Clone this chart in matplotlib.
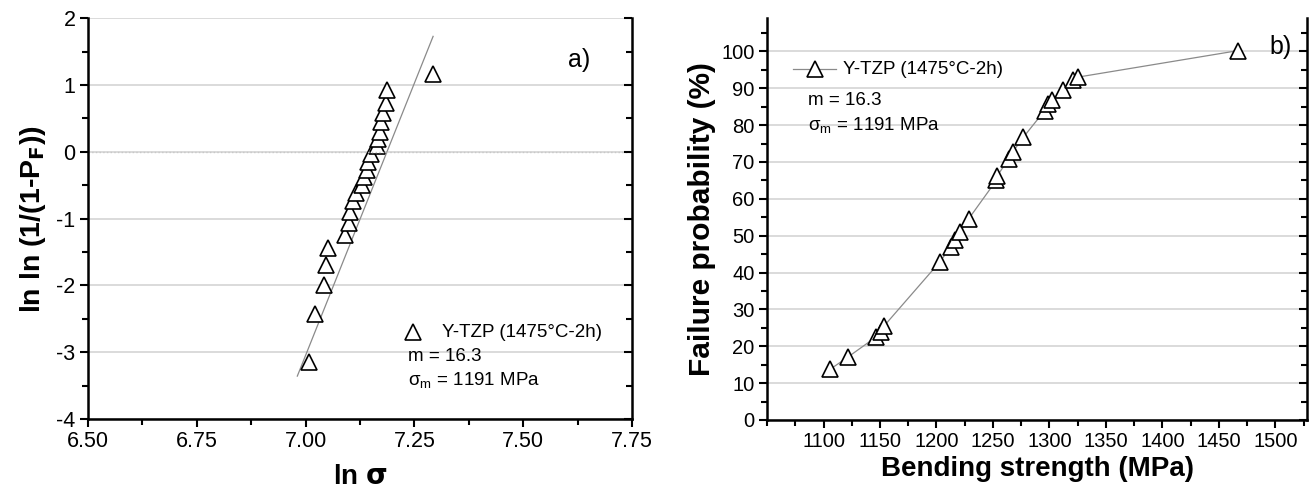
#!/usr/bin/env python

import matplotlib
matplotlib.use('Agg')
import matplotlib.pyplot as plt
from matplotlib.ticker import MultipleLocator, FormatStrFormatter
import numpy as np

plt.rcParams['font.family'] = ['Liberation Sans', 'DejaVu Sans']
plt.rcParams['axes.unicode_minus'] = False

# panel a) Weibull plot
ln_sigma = [7.008, 7.022, 7.043, 7.047, 7.051, 7.091, 7.099, 7.102, 7.109,
            7.115, 7.130, 7.134, 7.140, 7.143, 7.151, 7.165, 7.167, 7.170,
            7.173, 7.178, 7.184, 7.188, 7.293]
lnln_pf = [-3.14, -2.43, -2.00, -1.70, -1.44, -1.24, -1.06, -0.90, -0.74,
           -0.62, -0.49, -0.38, -0.27, -0.16, -0.03, 0.08, 0.19, 0.30,
           0.44, 0.58, 0.73, 0.92, 1.17]
weibull_m = 16.3
fit_x0 = 7.187          # where the fit line crosses zero
fit_range = [6.981, 7.293]

# panel b) failure probability
strength = [1105.6, 1121.3, 1146.9, 1150.6, 1153.6, 1203.0, 1212.5, 1216.6,
            1221.0, 1228.6, 1253.0, 1254.0, 1263.8, 1267.5, 1276.9, 1295.7,
            1299.0, 1302.0, 1312.0, 1320.6, 1325.0, 1467.0]
fail_prob = [13.7, 17.0, 22.6, 23.9, 25.5, 42.9, 46.9, 48.7, 51.0, 54.6,
             65.0, 66.3, 70.8, 72.7, 76.7, 83.9, 85.6, 86.8, 89.5, 92.1,
             93.0, 100.2]

label = 'Y-TZP (1475°C-2h)'
stat_m = 'm = 16.3'
stat_s = r'σ$_\mathregular{m}$ = 1191 MPa'

TRI = dict(marker='^', ms=11, mfc='white', mec='black', mew=1.2)


def style_axes(ax, ymaj, ymin, labelsize):
    for s in ax.spines.values():
        s.set_linewidth(1.8)
    ax.spines['top'].set_visible(False)
    ax.yaxis.set_major_locator(MultipleLocator(ymaj))
    ax.yaxis.set_minor_locator(MultipleLocator(ymin))
    ax.tick_params(which='both', direction='out', width=1.5,
                   labelsize=labelsize, right=False, pad=3)
    ax.tick_params(which='major', length=6)
    ax.tick_params(which='minor', length=4)
    ax.grid(axis='y', which='major', color='#d8d8d8', lw=1.3)
    ax.set_axisbelow(True)
    # inward ticks on the right spine
    tw = ax.twinx()
    tw.set_ylim(ax.get_ylim())
    tw.yaxis.set_major_locator(MultipleLocator(ymaj))
    tw.yaxis.set_minor_locator(MultipleLocator(ymin))
    tw.tick_params(which='both', direction='in', width=1.5, labelright=False)
    tw.tick_params(which='major', length=6)
    tw.tick_params(which='minor', length=4)
    for s in tw.spines.values():
        s.set_visible(False)


fig = plt.figure(figsize=(13.15, 4.9), dpi=100)
ax1 = fig.add_axes([0.0669, 0.1449, 0.4137, 0.818])
ax2 = fig.add_axes([0.5833, 0.1429, 0.4106, 0.820])

# ----- a)
ax1.set_xlim(6.5, 7.75)
ax1.set_ylim(-4, 2)
fx = np.array(fit_range)
ax1.plot(fx, weibull_m * (fx - fit_x0), color='#8a8a8a', lw=0.9)
ax1.plot(ln_sigma, lnln_pf, ls='none', **TRI)
ax1.axhline(0, color='#c8c8c8', lw=1.0, ls=':')
ax1.xaxis.set_major_locator(MultipleLocator(0.25))
ax1.xaxis.set_minor_locator(MultipleLocator(0.125))
ax1.xaxis.set_major_formatter(FormatStrFormatter('%.2f'))
style_axes(ax1, 1, 0.5, 15.5)
ax1.set_xlabel(r'ln $\mathbf{\sigma}$', fontsize=20, fontweight='bold',
               labelpad=8)
ax1.set_ylabel(r'ln ln (1/(1-P$_\mathbf{F}$))', fontsize=20.5,
               fontweight='bold', labelpad=6)
ax1.text(0.923, 0.895, 'a)', transform=ax1.transAxes, fontsize=18,
         ha='right', va='center')
ax1.plot([0.597], [0.217], transform=ax1.transAxes, ls='none', **TRI)
ax1.text(0.651, 0.217, label, transform=ax1.transAxes, fontsize=13.5,
         va='center')
ax1.text(0.588, 0.155, stat_m, transform=ax1.transAxes, fontsize=13.5,
         va='center')
ax1.text(0.588, 0.095, stat_s, transform=ax1.transAxes, fontsize=13.5,
         va='center')

# ----- b)
ax2.set_xlim(1050, 1528)
ax2.set_ylim(0, 109)
ax2.plot(strength, fail_prob, color='#8a8a8a', lw=0.9, **TRI)
ax2.xaxis.set_major_locator(MultipleLocator(50))
ax2.xaxis.set_minor_locator(MultipleLocator(25))
style_axes(ax2, 10, 5, 14.5)
ax2.set_xticks(np.arange(1100, 1501, 50))
ax2.set_xlabel('Bending strength (MPa)', fontsize=20, fontweight='bold',
               labelpad=3)
ax2.set_ylabel('Failure probability (%)', fontsize=21.5, fontweight='bold',
               labelpad=4)
ax2.text(0.972, 0.928, 'b)', transform=ax2.transAxes, fontsize=18,
         ha='right', va='center')
ax2.plot([0.048, 0.128], [0.873, 0.873], transform=ax2.transAxes,
         color='#8a8a8a', lw=0.9)
ax2.plot([0.089], [0.873], transform=ax2.transAxes, ls='none', **TRI)
ax2.text(0.141, 0.873, label, transform=ax2.transAxes, fontsize=13.5,
         va='center')
ax2.text(0.076, 0.796, stat_m, transform=ax2.transAxes, fontsize=13.5,
         va='center')
ax2.text(0.076, 0.731, stat_s, transform=ax2.transAxes, fontsize=13.5,
         va='center')

fig.savefig('out.png', dpi=100)
